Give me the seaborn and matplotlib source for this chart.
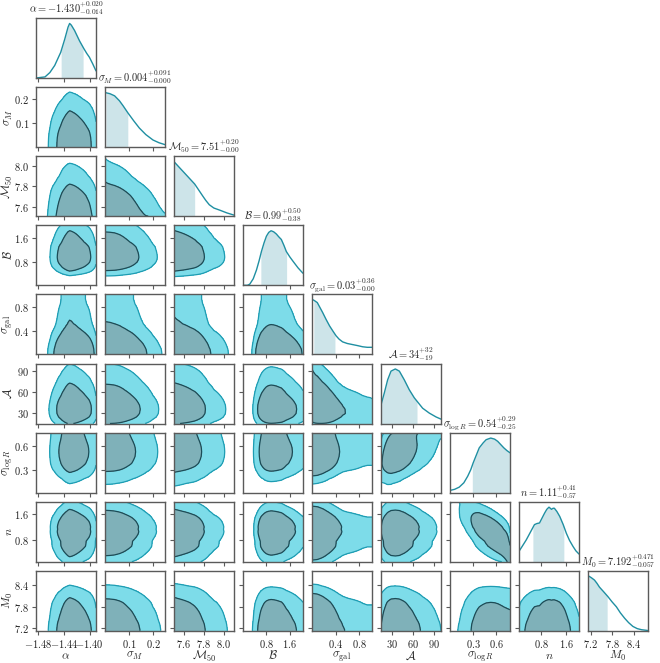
import numpy as np
import matplotlib
matplotlib.use("Agg")
import matplotlib.pyplot as plt
import seaborn as sns

# ---------------- data ----------------
PARAM_LABELS = [r"$\alpha$", r"$\sigma_M$", r"$\mathcal{M}_{50}$", r"$\mathcal{B}$",
                r"$\sigma_{\rm gal}$", r"$\mathcal{A}$", r"$\sigma_{\log R}$", r"$n$", r"$M_0$"]
MEDIAN = [-1.430, 0.004, 7.51, 0.99, 0.03, 34, 0.54, 1.11, 7.192]
ERR_PLUS = [0.020, 0.091, 0.20, 0.50, 0.36, 32, 0.29, 0.41, 0.471]
ERR_MINUS = [0.014, 0.000, 0.00, 0.38, 0.00, 19, 0.25, 0.57, 0.057]
DECIMALS = [3, 3, 2, 2, 2, 0, 2, 2, 3]

TICKS = [[-1.48, -1.44, -1.40], [0.1, 0.2], [7.6, 7.8, 8.0], [0.8, 1.6], [0.4, 0.8],
         [30, 60, 90], [0.3, 0.6], [0.8, 1.6], [7.2, 7.8, 8.4]]
TICK_LABELS = [[r"$-1.48$", r"$-1.44$", r"$-1.40$"], [r"$0.1$", r"$0.2$"],
               [r"$7.6$", r"$7.8$", r"$8.0$"], [r"$0.8$", r"$1.6$"], [r"$0.4$", r"$0.8$"],
               [r"$30$", r"$60$", r"$90$"], [r"$0.3$", r"$0.6$"], [r"$0.8$", r"$1.6$"],
               [r"$7.2$", r"$7.8$", r"$8.4$"]]

# 1D marginal posteriors (parameter value, relative density)
ALPHA_X = [-1.483, -1.469, -1.4615, -1.454, -1.4447, -1.4385, -1.4334, -1.4309, -1.4283,
           -1.4232, -1.4155, -1.4089, -1.4043, -1.4002, -1.3951, -1.390]
ALPHA_PDF = [0.0, 0.02, 0.10, 0.23, 0.47, 0.71, 0.93, 1.0, 0.97, 0.87, 0.68, 0.54, 0.45,
             0.38, 0.26, 0.13]
SIGMA_M_X = [0.0, 0.02, 0.04, 0.06, 0.075, 0.095, 0.12, 0.143, 0.17, 0.20, 0.225, 0.25]
SIGMA_M_PDF = [1.0, 0.98, 0.94, 0.85, 0.76, 0.63, 0.48, 0.35, 0.23, 0.13, 0.08, 0.045]
M50_X = [7.505, 7.55, 7.59, 7.65, 7.71, 7.75, 7.79, 7.82, 7.855, 7.90, 7.96, 8.03, 8.10]
M50_PDF = [1.0, 0.91, 0.83, 0.71, 0.59, 0.48, 0.37, 0.29, 0.21, 0.15, 0.11, 0.06, 0.02]
B_X = [0.0, 0.15, 0.23, 0.35, 0.46, 0.55, 0.63, 0.72, 0.80, 0.88, 0.96, 1.05, 1.14, 1.22,
       1.31, 1.40, 1.48, 1.60, 1.71, 1.88, 2.05]
B_PDF = [0.0, 0.0, 0.02, 0.12, 0.28, 0.45, 0.62, 0.78, 0.90, 0.97, 1.0, 0.98, 0.94, 0.89,
         0.84, 0.73, 0.62, 0.52, 0.44, 0.32, 0.22]
SGAL_X = [0.0, 0.02, 0.05, 0.09, 0.13, 0.18, 0.24, 0.30, 0.36, 0.41, 0.46, 0.52, 0.60,
          0.69, 0.78, 0.86, 0.94, 1.02]
SGAL_PDF = [1.0, 1.0, 0.98, 0.95, 0.87, 0.77, 0.64, 0.52, 0.42, 0.34, 0.28, 0.23, 0.20,
            0.18, 0.16, 0.14, 0.13, 0.13]
A_X = [15, 19.7, 24.4, 29.2, 35.3, 41, 48, 55, 62.2, 74, 83.5, 93, 100]
A_PDF = [0.34, 0.56, 0.80, 0.96, 1.0, 0.96, 0.80, 0.62, 0.47, 0.28, 0.19, 0.12, 0.08]
SLOGR_X = [0.0, 0.06, 0.12, 0.18, 0.23, 0.27, 0.30, 0.34, 0.38, 0.43, 0.47, 0.53, 0.58,
           0.62, 0.66, 0.70, 0.74, 0.78]
SLOGR_PDF = [0.04, 0.06, 0.10, 0.18, 0.30, 0.42, 0.54, 0.68, 0.82, 0.91, 0.97, 1.0, 0.98,
             0.94, 0.88, 0.82, 0.77, 0.73]
N_X = [0.1, 0.2, 0.33, 0.46, 0.59, 0.67, 0.75, 0.83, 0.91, 0.98, 1.05, 1.09, 1.13, 1.18,
       1.22, 1.30, 1.39, 1.50, 1.60, 1.70, 1.81, 1.90, 2.0]
N_PDF = [0.19, 0.28, 0.40, 0.54, 0.68, 0.70, 0.71, 0.80, 0.89, 0.96, 1.0, 0.98, 0.96, 0.98,
         0.98, 0.92, 0.83, 0.68, 0.52, 0.39, 0.28, 0.20, 0.14]
M0_X = [7.13, 7.16, 7.23, 7.31, 7.38, 7.45, 7.56, 7.68, 7.80, 7.92, 8.03, 8.15, 8.26, 8.38,
        8.50, 8.62, 8.80]
M0_PDF = [1.0, 1.0, 0.97, 0.93, 0.87, 0.80, 0.72, 0.63, 0.53, 0.44, 0.33, 0.23, 0.15, 0.08,
          0.04, 0.02, 0.005]

MARG_X = [ALPHA_X, SIGMA_M_X, M50_X, B_X, SGAL_X, A_X, SLOGR_X, N_X, M0_X]
MARG_PDF = [ALPHA_PDF, SIGMA_M_PDF, M50_PDF, B_PDF, SGAL_PDF, A_PDF, SLOGR_PDF, N_PDF, M0_PDF]

# pairwise correlations (index_i, index_j, rho)
CORR_PAIRS = [(1, 2, -0.15), (5, 6, 0.25), (6, 7, -0.60), (4, 5, -0.15)]

# axis ranges
RANGES = [(-1.483, -1.390), (0.0, 0.25), (7.505, 8.10), (0.0, 2.05), (0.0, 1.02),
          (15, 100), (0.0, 0.78), (0.1, 2.0), (7.13, 8.80)]

# credible-region levels of the 2D contours
LEVELS = [0.68, 0.95]

# ---------------- style ----------------
sns.set_style("ticks")
plt.rcParams["mathtext.fontset"] = "cm"
plt.rcParams["font.family"] = ["DejaVu Serif"]

LINE_C = "#1f8fa2"
SHADE_C = "#cde4e9"
OUTER_FILL = "#7ddce9"
INNER_FILL = "#7fb1b9"
OUTER_LINE = "#1e9cb2"
INNER_LINE = "#1b4c57"
SPINE_C = "#5a5a5a"

K = len(PARAM_LABELS)
fig = plt.figure(figsize=(6.6, 6.63), dpi=100)
W, H = 660.0, 663.0

# grids for density model
NG = 160
zz = np.linspace(-7, 7, 4001)
phi_cdf = np.cumsum(np.exp(-0.5 * zz ** 2))
phi_cdf /= phi_cdf[-1]
grids, pdfs, zs = [], [], []
for i in range(K):
    g = np.linspace(RANGES[i][0], RANGES[i][1], NG)
    p = np.interp(g, MARG_X[i], MARG_PDF[i])
    c = np.cumsum(p)
    c = c / c[-1]
    c = np.clip(c - 0.5 * p / p.sum(), 1e-4, 1 - 1e-4)
    grids.append(g)
    pdfs.append(p)
    zs.append(np.interp(c, phi_cdf, zz))

rho_lookup = {}
for a, b, r in CORR_PAIRS:
    rho_lookup[(a, b)] = r
    rho_lookup[(b, a)] = r


def style_axis(ax):
    for s in ax.spines.values():
        s.set_color(SPINE_C)
        s.set_linewidth(1.0)
    ax.tick_params(direction="out", length=3, width=0.8, color=SPINE_C,
                   labelsize=7.5, labelcolor="#222222", pad=2)


for row in range(K):
    for col in range(row + 1):
        left = (36 + 69 * col) / W
        top = (18 + 69.1 * row) / H
        ax = fig.add_axes([left, 1 - top - 60 / H, 60 / W, 60 / H])
        style_axis(ax)
        if row == col:
            x = np.array(MARG_X[col], dtype=float)
            y = np.array(MARG_PDF[col], dtype=float)
            lo = MEDIAN[col] - ERR_MINUS[col]
            hi = MEDIAN[col] + ERR_PLUS[col]
            lo = max(lo, x[0])
            hi = min(hi, x[-1])
            inside = (x > lo) & (x < hi)
            sx = np.concatenate([[lo], x[inside], [hi]])
            sy = np.concatenate([[np.interp(lo, x, y)], y[inside], [np.interp(hi, x, y)]])
            ax.fill_between(sx, 0, sy, color=SHADE_C, lw=0)
            sns.lineplot(x=x, y=y, ax=ax, color=LINE_C, lw=1.0, sort=False)
            ax.set_ylim(0, 1.1)
            ax.set_yticks([])
            ax.set_ylabel("")
            d = DECIMALS[col]
            name = PARAM_LABELS[col].strip("$")
            title = r"$%s = %.*f^{+%.*f}_{-%.*f}$" % (name, d, MEDIAN[col], d, ERR_PLUS[col], d, ERR_MINUS[col])
            ax.set_title(title, fontsize=7.5, pad=4)
        else:
            gx, gy = grids[col], grids[row]
            px, py = pdfs[col], pdfs[row]
            zx, zy = zs[col], zs[row]
            rho = rho_lookup.get((col, row), 0.0)
            ZX, ZY = np.meshgrid(zx, zy)
            cop = np.exp(-(rho ** 2 * (ZX ** 2 + ZY ** 2) - 2 * rho * ZX * ZY) / (2 * (1 - rho ** 2))) / np.sqrt(1 - rho ** 2)
            D = py[:, None] * px[None, :] * cop
            flat = np.sort(D.ravel())[::-1]
            cm = np.cumsum(flat)
            cm /= cm[-1]
            t1 = flat[np.searchsorted(cm, LEVELS[0])]
            t2 = flat[np.searchsorted(cm, LEVELS[1])]
            ax.contourf(gx, gy, D, levels=[t2, t1, D.max() * 1.01], colors=[OUTER_FILL, INNER_FILL])
            ax.contour(gx, gy, D, levels=[t2], colors=[OUTER_LINE], linewidths=0.9)
            ax.contour(gx, gy, D, levels=[t1], colors=[INNER_LINE], linewidths=0.9)
            ax.set_ylim(*RANGES[row])
            ax.set_yticks(TICKS[row])
            if col == 0:
                ax.set_yticklabels(TICK_LABELS[row])
                ax.set_ylabel(PARAM_LABELS[row], fontsize=8.5)
                ax.yaxis.set_label_coords(-0.35, 0.5)
            else:
                ax.set_yticklabels([])
        ax.set_xticks(TICKS[col])
        if row == K - 1:
            ax.set_xticklabels(TICK_LABELS[col])
            ax.set_xlabel(PARAM_LABELS[col], fontsize=8.5)
            ax.xaxis.set_label_coords(0.5, -0.31)
        else:
            ax.set_xticklabels([])
            ax.set_xlabel("")
        ax.set_xlim(*RANGES[col])

fig.savefig("out.png", dpi=100)
